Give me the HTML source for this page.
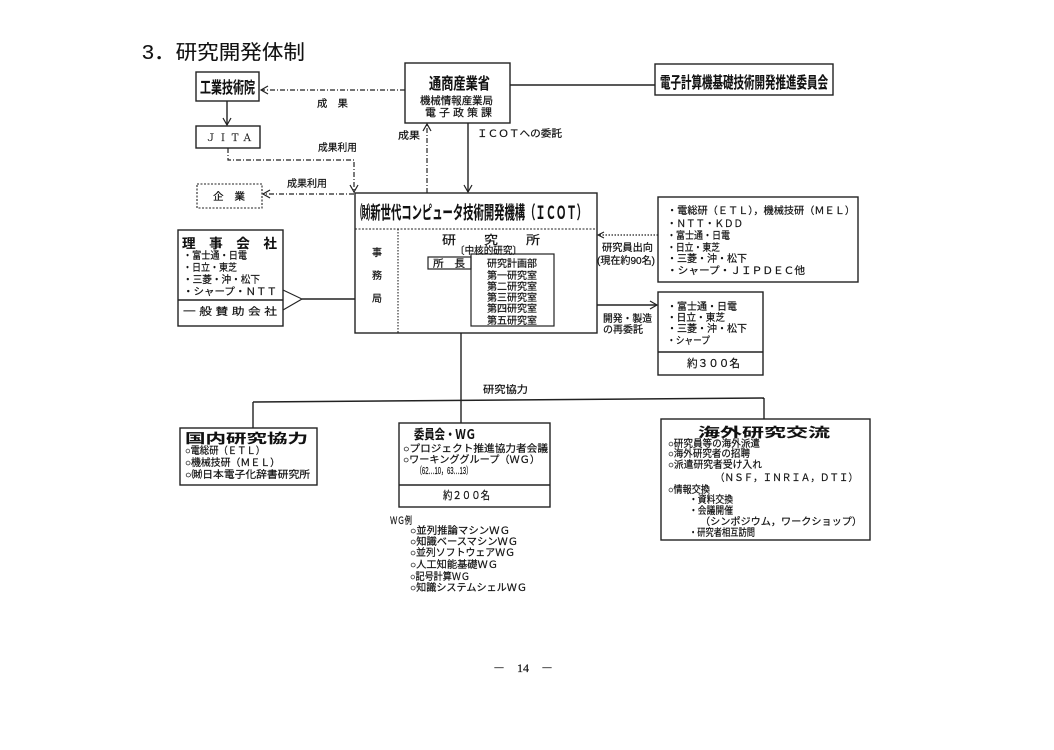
<!DOCTYPE html>
<html><head><meta charset="utf-8"><style>
html,body{margin:0;padding:0;background:#fff;}
svg{display:block}
text{font-family:"Liberation Sans","Noto Sans CJK JP",sans-serif;fill:#111;stroke:#111;stroke-width:0.2;}
.s{font-family:"Liberation Serif","Noto Serif CJK SC",serif}
.b{font-weight:bold;stroke-width:0.1}
</style></head><body>
<svg width="1054" height="750" viewBox="0 0 1054 750" xmlns="http://www.w3.org/2000/svg">
<rect width="1054" height="750" fill="#fff"/>
<g fill="none" stroke="#222" stroke-width="1.4">
  <rect x="196" y="72" width="63" height="29"/>
  <rect x="196" y="126" width="64" height="22"/>
  <rect x="197" y="184" width="65" height="24" stroke-dasharray="2 1.5" stroke-width="1.1"/>
  <rect x="405" y="63" width="105" height="60"/>
  <rect x="655" y="64" width="178" height="31"/>
  <rect x="355" y="193" width="242" height="140"/>
  <line x1="355" y1="229" x2="597" y2="229" stroke-dasharray="2 1.5" stroke-width="1.1"/>
  <line x1="398" y1="229" x2="398" y2="333" stroke-dasharray="1.5 1.5" stroke-width="1.1"/>
  <rect x="428" y="257" width="43" height="12" stroke-width="1.2"/>
  <rect x="471" y="254" width="83" height="72" stroke-width="1.2"/>
  <rect x="178" y="230" width="105" height="96"/>
  <line x1="178" y1="300" x2="283" y2="300"/>
  <polyline points="283,290 302,299 283,310" stroke-width="1.1"/>
  <line x1="302" y1="299" x2="355" y2="299"/>
  <rect x="658" y="197" width="200" height="85"/>
  <rect x="658" y="292" width="105" height="83"/>
  <line x1="658" y1="352" x2="763" y2="352"/>
  <rect x="180" y="428" width="137" height="57"/>
  <rect x="399" y="423" width="151" height="84"/>
  <line x1="399" y1="485" x2="550" y2="485"/>
  <rect x="661" y="419" width="209" height="121"/>

  <line x1="405" y1="90" x2="261" y2="90" stroke-dasharray="5 2 1 2" stroke-width="1.2"/>
  <polyline points="268,86 261,90 268,94" stroke-width="1.2"/>
  <line x1="227" y1="101" x2="227" y2="125"/>
  <polyline points="223,118 227,125 231,118" stroke-width="1.2"/>
  <polyline points="228,148 228,160 354,160 354,192" stroke-dasharray="5 2 1 2" stroke-width="1.2"/>
  <polyline points="350,185 354,192 358,185" stroke-width="1.2"/>
  <line x1="354" y1="194" x2="263" y2="194" stroke-dasharray="5 2 1 2" stroke-width="1.2"/>
  <polyline points="270,190 263,194 270,198" stroke-width="1.2"/>
  <line x1="427" y1="193" x2="427" y2="124" stroke-dasharray="5 2 1 2" stroke-width="1.2"/>
  <polyline points="423,131 427,124 431,131" stroke-width="1.2"/>
  <line x1="468" y1="123" x2="468" y2="192"/>
  <polyline points="464,185 468,192 472,185" stroke-width="1.2"/>
  <line x1="510" y1="85" x2="655" y2="85"/>
  <line x1="658" y1="235" x2="598" y2="235" stroke-dasharray="1.5 1.5" stroke-width="1.2"/>
  <polyline points="604,232 598,235 604,238" stroke-width="1.1"/>
  <line x1="597" y1="305" x2="657" y2="305"/>
  <polyline points="650,301 657,305 650,309" stroke-width="1.2"/>
  <line x1="461" y1="333" x2="461" y2="423"/>
  <line x1="253" y1="402" x2="764" y2="398"/>
  <line x1="253" y1="402" x2="253" y2="428"/>
  <line x1="764" y1="398" x2="764" y2="419"/>
</g>

<text x="142" y="59" font-size="20" textLength="163" lengthAdjust="spacingAndGlyphs" style="stroke-width:0.1">3．研究開発体制</text>

<text class="b" x="200" y="93" font-size="16" textLength="55" lengthAdjust="spacingAndGlyphs">工業技術院</text>
<text class="s" x="206" y="141" font-size="10" textLength="46" lengthAdjust="spacingAndGlyphs">Ｊ Ｉ Ｔ Ａ</text>
<text x="213" y="200" font-size="10" textLength="32" lengthAdjust="spacingAndGlyphs">企　業</text>
<text x="317" y="107" font-size="10" textLength="31" lengthAdjust="spacingAndGlyphs">成　果</text>
<text x="318" y="151" font-size="10" textLength="39" lengthAdjust="spacingAndGlyphs">成果利用</text>
<text x="287" y="187" font-size="10" textLength="40" lengthAdjust="spacingAndGlyphs">成果利用</text>
<text x="398" y="139" font-size="10" textLength="22" lengthAdjust="spacingAndGlyphs">成果</text>
<text x="477" y="137" font-size="10" textLength="85" lengthAdjust="spacingAndGlyphs">ＩＣＯＴへの委託</text>

<text class="b" x="429" y="89" font-size="16" textLength="61" lengthAdjust="spacingAndGlyphs">通商産業省</text>
<text x="420" y="104" font-size="10.5" textLength="73" lengthAdjust="spacingAndGlyphs">機械情報産業局</text>
<text x="425" y="116" font-size="10.5" textLength="67" lengthAdjust="spacingAndGlyphs">電 子 政 策 課</text>
<text class="b" x="660" y="88" font-size="16" textLength="168" lengthAdjust="spacingAndGlyphs">電子計算機基礎技術開発推進委員会</text>

<text class="b" x="360" y="219" font-size="18" textLength="227" lengthAdjust="spacingAndGlyphs">㈶新世代コンピュータ技術開発機構（ＩＣＯＴ）</text>
<text x="372" y="256" font-size="10">事</text>
<text x="372" y="279" font-size="10">務</text>
<text x="372" y="302" font-size="10">局</text>
<text x="442" y="244" font-size="12" textLength="98" lengthAdjust="spacingAndGlyphs">研　　究　　所</text>
<text x="455" y="254" font-size="10" textLength="67" lengthAdjust="spacingAndGlyphs">〔中核的研究〕</text>
<text x="433" y="267" font-size="10" textLength="32" lengthAdjust="spacingAndGlyphs">所　長</text>
<g font-size="10">
<text x="487" y="267" textLength="50" lengthAdjust="spacingAndGlyphs">研究計画部</text>
<text x="487" y="279" textLength="50" lengthAdjust="spacingAndGlyphs">第一研究室</text>
<text x="487" y="290" textLength="50" lengthAdjust="spacingAndGlyphs">第二研究室</text>
<text x="487" y="301" textLength="50" lengthAdjust="spacingAndGlyphs">第三研究室</text>
<text x="487" y="312" textLength="50" lengthAdjust="spacingAndGlyphs">第四研究室</text>
<text x="487" y="324" textLength="50" lengthAdjust="spacingAndGlyphs">第五研究室</text>
</g>

<text class="b" x="182" y="248" font-size="13" textLength="95" lengthAdjust="spacingAndGlyphs">理　事　会　社</text>
<g font-size="10">
<text x="183" y="259" textLength="64" lengthAdjust="spacingAndGlyphs">・富士通・日電</text>
<text x="183" y="271" textLength="54" lengthAdjust="spacingAndGlyphs">・日立・東芝</text>
<text x="183" y="283" textLength="77" lengthAdjust="spacingAndGlyphs">・三菱・沖・松下</text>
<text x="183" y="295" textLength="94" lengthAdjust="spacingAndGlyphs">・シャープ・ＮＴＴ</text>
<text x="183" y="315" textLength="94" lengthAdjust="spacingAndGlyphs">一 般 賛 助 会 社</text>
</g>

<g font-size="10">
<text x="667" y="214" textLength="188" lengthAdjust="spacingAndGlyphs">・電総研（ＥＴＬ），機械技研（ＭＥＬ）</text>
<text x="667" y="227" textLength="76" lengthAdjust="spacingAndGlyphs">・ＮＴＴ・ＫＤＤ</text>
<text x="667" y="239" textLength="63" lengthAdjust="spacingAndGlyphs">・富士通・日電</text>
<text x="667" y="251" textLength="53" lengthAdjust="spacingAndGlyphs">・日立・東芝</text>
<text x="667" y="262" textLength="80" lengthAdjust="spacingAndGlyphs">・三菱・沖・松下</text>
<text x="667" y="274" textLength="138" lengthAdjust="spacingAndGlyphs">・シャープ・ＪＩＰＤＥＣ他</text>
<text x="602" y="251" textLength="51" lengthAdjust="spacingAndGlyphs">研究員出向</text>
<text x="597" y="264" textLength="58" lengthAdjust="spacingAndGlyphs">(現在約90名)</text>
<text x="603" y="322" textLength="49" lengthAdjust="spacingAndGlyphs">開発・製造</text>
<text x="603" y="333" textLength="40" lengthAdjust="spacingAndGlyphs">の再委託</text>
<text x="667" y="310" textLength="70" lengthAdjust="spacingAndGlyphs">・富士通・日電</text>
<text x="667" y="321" textLength="58" lengthAdjust="spacingAndGlyphs">・日立・東芝</text>
<text x="667" y="332" textLength="80" lengthAdjust="spacingAndGlyphs">・三菱・沖・松下</text>
<text x="667" y="344" textLength="43" lengthAdjust="spacingAndGlyphs">・シャープ</text>
<text x="687" y="367" font-size="11" textLength="53" lengthAdjust="spacingAndGlyphs">約３００名</text>
<text x="483" y="393" textLength="45" lengthAdjust="spacingAndGlyphs">研究協力</text>
</g>

<text class="b" x="185" y="443" font-size="13" textLength="123" lengthAdjust="spacingAndGlyphs">国内研究協力</text>
<g font-size="10">
<text x="185" y="454" textLength="80" lengthAdjust="spacingAndGlyphs">○電総研（ＥＴＬ）</text>
<text x="185" y="466" textLength="95" lengthAdjust="spacingAndGlyphs">○機械技研（ＭＥＬ）</text>
<text x="185" y="478" textLength="125" lengthAdjust="spacingAndGlyphs">○㈶日本電子化辞書研究所</text>
</g>

<text class="b" x="414" y="439" font-size="13" textLength="62" lengthAdjust="spacingAndGlyphs">委員会・ＷＧ</text>
<g font-size="10">
<text x="403" y="452" textLength="145" lengthAdjust="spacingAndGlyphs">○プロジェクト推進協力者会議</text>
<text x="403" y="463" textLength="137" lengthAdjust="spacingAndGlyphs">○ワーキンググループ（ＷＧ）</text>
<text x="416" y="474" textLength="56" lengthAdjust="spacingAndGlyphs">（62…10，63…13）</text>
<text x="443" y="499" font-size="11" textLength="47" lengthAdjust="spacingAndGlyphs">約２００名</text>
</g>

<text class="b" x="698" y="437" font-size="13" textLength="132" lengthAdjust="spacingAndGlyphs">海外研究交流</text>
<g font-size="10">
<text x="668" y="447" textLength="92" lengthAdjust="spacingAndGlyphs">○研究員等の海外派遣</text>
<text x="668" y="457" textLength="82" lengthAdjust="spacingAndGlyphs">○海外研究者の招聘</text>
<text x="668" y="468" textLength="94" lengthAdjust="spacingAndGlyphs">○派遣研究者受け入れ</text>
<text x="715" y="481" textLength="143" lengthAdjust="spacingAndGlyphs">（ＮＳＦ，ＩＮＲＩＡ，ＤＴＩ）</text>
<text x="668" y="493" textLength="42" lengthAdjust="spacingAndGlyphs">○情報交換</text>
<text x="689" y="503" textLength="44" lengthAdjust="spacingAndGlyphs">・資料交換</text>
<text x="689" y="514" textLength="44" lengthAdjust="spacingAndGlyphs">・会議開催</text>
<text x="700" y="525" textLength="162" lengthAdjust="spacingAndGlyphs">（シンポジウム，ワークショップ）</text>
<text x="689" y="536" textLength="66" lengthAdjust="spacingAndGlyphs">・研究者相互訪問</text>
</g>

<g font-size="10">
<text x="390" y="524" textLength="22" lengthAdjust="spacingAndGlyphs">ＷＧ例</text>
<text x="410" y="534" textLength="100" lengthAdjust="spacingAndGlyphs">○並列推論マシンＷＧ</text>
<text x="410" y="545" textLength="108" lengthAdjust="spacingAndGlyphs">○知識ベースマシンＷＧ</text>
<text x="410" y="556" textLength="105" lengthAdjust="spacingAndGlyphs">○並列ソフトウェアＷＧ</text>
<text x="410" y="568" textLength="88" lengthAdjust="spacingAndGlyphs">○人工知能基礎ＷＧ</text>
<text x="410" y="580" textLength="60" lengthAdjust="spacingAndGlyphs">○記号計算ＷＧ</text>
<text x="410" y="591" textLength="117" lengthAdjust="spacingAndGlyphs">○知識システムシェルＷＧ</text>
</g>

<text class="s" x="493" y="672" font-size="12" textLength="60" lengthAdjust="spacingAndGlyphs">－　14　－</text>
</svg>
</body></html>
